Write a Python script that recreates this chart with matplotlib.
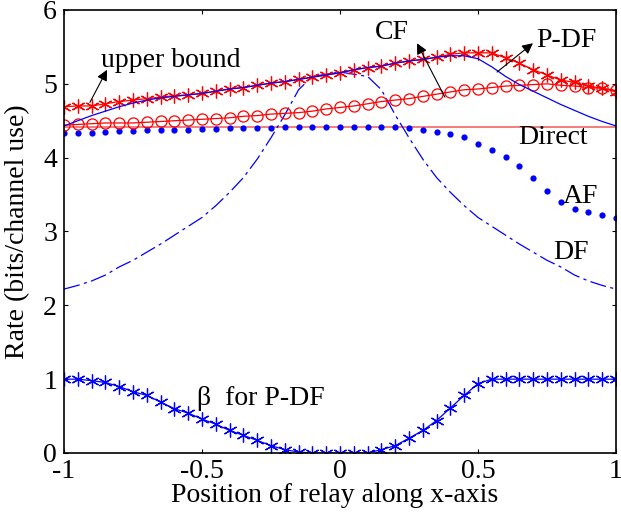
import matplotlib
matplotlib.use('Agg')

import numpy as np
import matplotlib.pyplot as plt

font = {'family': 'Liberation Serif', 'size': 20}
matplotlib.rc('font', **font)

#### ========================================================  NOTE: data
# relay position, step 0.05
xpos = np.linspace(-1, 1, 41)

upper_bound = [4.69, 4.70, 4.70, 4.73, 4.76, 4.78, 4.80, 4.82, 4.84, 4.85,
               4.87, 4.90, 4.93, 4.95, 4.98, 5.01, 5.03, 5.06, 5.09, 5.12,
               5.15, 5.19, 5.22, 5.24, 5.28, 5.31, 5.33, 5.36, 5.40, 5.42,
               5.42, 5.42, 5.35, 5.28, 5.19, 5.12, 5.05, 5.02, 4.97, 4.94,
               4.89]

pdf_rate = [4.43, 4.50, 4.57, 4.63, 4.69, 4.74, 4.78, 4.81, 4.83, 4.85,
            4.87, 4.90, 4.93, 4.95, 4.98, 5.01, 5.03, 5.06, 5.09, 5.12,
            5.15, 5.19, 5.22, 5.24, 5.28, 5.31, 5.33, 5.36, 5.38, 5.38,
            5.34, 5.23, 5.10, 4.99, 4.90, 4.81, 4.72, 4.64, 4.56, 4.49,
            4.43]

cf_rate = [4.44, 4.45, 4.46, 4.47, 4.47, 4.47, 4.48, 4.49, 4.50, 4.51,
           4.52, 4.53, 4.54, 4.56, 4.57, 4.59, 4.60, 4.61, 4.63, 4.66,
           4.68, 4.70, 4.73, 4.76, 4.78, 4.80, 4.83, 4.86, 4.89, 4.92,
           4.93, 4.95, 4.97, 4.98, 4.99, 5.00, 4.98, 4.97, 4.95, 4.94,
           4.91]

af_rate = [4.34, 4.34, 4.34, 4.35, 4.36, 4.36, 4.37, 4.37, 4.37, 4.38,
           4.39, 4.39, 4.40, 4.40, 4.40, 4.40, 4.41, 4.42, 4.42, 4.42,
           4.42, 4.42, 4.42, 4.42, 4.42, 4.40, 4.37, 4.35, 4.32, 4.28,
           4.19, 4.10, 4.01, 3.89, 3.72, 3.55, 3.40, 3.30, 3.26, 3.22,
           3.18]

df_rate = [2.22, 2.27, 2.33, 2.41, 2.52, 2.61, 2.72, 2.83, 2.95, 3.07,
           3.19, 3.35, 3.53, 3.73, 3.98, 4.27, 4.58, 4.92, 5.10, 5.13,
           5.16, 5.13, 5.10, 4.92, 4.58, 4.27, 3.98, 3.73, 3.53, 3.35,
           3.19, 3.07, 2.95, 2.83, 2.72, 2.61, 2.52, 2.41, 2.33, 2.27,
           2.22]

direct_rate = 4.42

beta = [1.00, 1.00, 0.98, 0.955, 0.90, 0.83, 0.78, 0.69, 0.60, 0.54,
        0.46, 0.39, 0.305, 0.24, 0.17, 0.10, 0.045, 0.013, 0.0, 0.0,
        0.0, 0.0, 0.0, 0.045, 0.10, 0.20, 0.305, 0.44, 0.61, 0.78,
        0.94, 1.00, 1.00, 1.00, 1.00, 1.00, 1.00, 1.00, 1.00, 1.00,
        1.00]

#### ========================================================  NOTE: plot
fig = plt.figure(figsize=(6.21, 5.14), dpi=100)
ax = fig.add_axes([64/621., 1-453/514., 552/621., 443/514.])

star = (6, 2, 0)
ax.plot([-1, 1], [direct_rate, direct_rate], '-', color='#f47c7c', lw=1.4)
ax.plot(xpos, df_rate, color='#0000ff', lw=0.9, ls=(0, (13, 3.5, 2.5, 3.5)))
ax.plot(xpos, af_rate, 'o', color='#0000ff', ms=4.5, mec='none')
ax.plot(xpos, cf_rate, '-', color='#ff0000', lw=0.9,
        marker='o', ms=8, mfc='none', mec='#ff0000', mew=0.9)
ax.plot(xpos, upper_bound, '-', color='#ff0000', lw=0.9,
        marker=star, ms=10, mec='#ff0000', mew=0.9)
ax.plot(xpos, pdf_rate, '-', color='#0000ff', lw=0.9)
ax.plot(xpos, beta, '-', color='#0000ff', lw=0.9,
        marker=star, ms=10, mec='#0000ff', mew=0.9)

# labels and arrows
aprops = dict(arrowstyle='-|>', color='k', lw=0.8, mutation_scale=16,
              shrinkA=0, shrinkB=0)
ax.annotate('', xy=(-0.844, 5.19), xytext=(-0.906, 4.75), arrowprops=aprops)
ax.annotate('', xy=(0.279, 5.55), xytext=(0.380, 4.82), arrowprops=aprops)
ax.annotate('', xy=(0.699, 5.55), xytext=(0.569, 5.16), arrowprops=aprops)

ax.text(-0.866, 5.32, 'upper bound', ha='left', va='center')
ax.text(0.188, 5.69, 'CF', ha='center', va='center')
ax.text(0.822, 5.59, 'P-DF', ha='center', va='center')
ax.text(0.772, 4.27, 'Direct', ha='center', va='center')
ax.text(0.873, 3.47, 'AF', ha='center', va='center')
ax.text(0.837, 2.71, 'DF', ha='center', va='center')
ax.text(-0.518, 0.74, u'\u03b2  for P-DF', ha='left', va='center')

ax.set_xlim(-1, 1)
ax.set_ylim(0, 6)
ax.set_xticks([-1, -0.5, 0, 0.5, 1])
ax.set_xticklabels(['-1', '-0.5', '0', '0.5', '1'])
ax.set_yticks(range(7))
ax.tick_params(direction='in', length=3, width=0.8, top=True, right=True)
ax.tick_params(axis='x', pad=4)
ax.tick_params(axis='y', pad=5)
for s in ax.spines.values():
    s.set_linewidth(1.2)

ax.set_xlabel('Position of relay along x-axis')
ax.set_ylabel('Rate (bits/channel use)')
ax.xaxis.set_label_coords(0.49, -0.068)
ax.yaxis.set_label_coords(-0.062, 0.5)

fig.savefig('out.png', dpi=100)
